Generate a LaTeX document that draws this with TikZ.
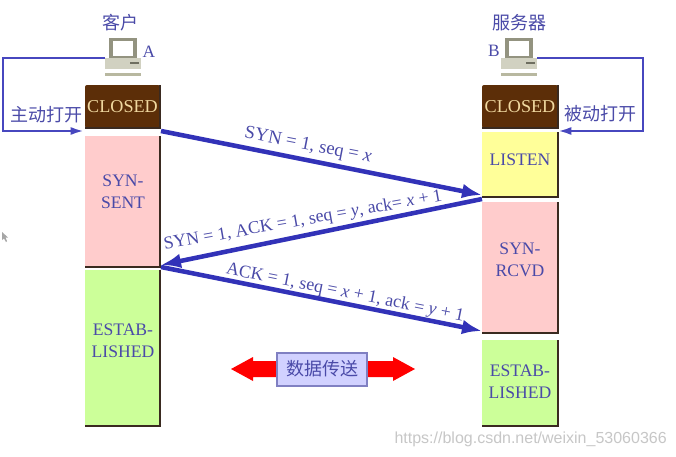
\documentclass[tikz,border=0pt]{standalone}
\usepackage{fontspec}
\setmainfont{Liberation Serif}
\setsansfont{Liberation Sans}
\newfontfamily\cjk{Noto Sans CJK SC}
\usetikzlibrary{arrows.meta}
\definecolor{ink}{HTML}{4A4AA8}
\definecolor{flow}{HTML}{3232B8}
\definecolor{brown}{HTML}{5C2E08}
\definecolor{sand}{HTML}{F0D8A0}
\definecolor{pinkb}{HTML}{FFCCCC}
\definecolor{yelb}{HTML}{FFFF99}
\definecolor{greenb}{HTML}{CCFF99}
\definecolor{edge}{HTML}{3A2A20}
\definecolor{pcg}{HTML}{B8B8A0}
\tikzset{
 x=0.75pt,y=-0.75pt,
 statebox/.style={anchor=north west,inner sep=0pt,outer sep=0pt},
 statetail/.style={draw=edge,line width=1.4pt},
 bigflow/.style={draw=flow,line width=3.4pt,-{Latex[length=15pt,width=11pt]}},
 thinflow/.style={draw=flow!90!white,line width=1.8pt},
 thinhead/.style={thinflow,-{Latex[length=10pt,width=6pt]}},
 flowlabel/.style={text=ink,font=\fontsize{13.4}{15}\selectfont,inner sep=0pt},
 boxlabel/.style={text=ink,font=\fontsize{13.2}{16.5}\selectfont,inner sep=0pt,align=center},
 closedlabel/.style={text=sand,font=\fontsize{13.6}{15}\selectfont,inner sep=0pt},
 cjklabel/.style={text=ink,font=\cjk\fontsize{13.5}{15}\selectfont,inner sep=0pt},
 pclabel/.style={text=ink,font=\fontsize{13}{15}\selectfont,inner sep=0pt},
}
\newcommand{\pcicon}[1]{%
 \begin{scope}[shift={(#1)}]
  \fill[pcg!80!black] (-14,-22) rectangle (14,-2);
  \fill[white] (-10,-19) rectangle (10,-4);
  \fill[pcg!65!white] (-18,-2) rectangle (18,9);
  \fill[pcg!60!black] (7,2) rectangle (16,4);
  \fill[pcg] (-18,13) rectangle (18,16);
 \end{scope}}
\begin{document}
\begin{tikzpicture}
\useasboundingbox (0,0) rectangle (676,457);
\fill[white] (0,0) rectangle (676,457);
% left boxes
\node[statebox,fill=brown,rounded corners=1.5pt,minimum width=75*0.75pt,minimum height=43*0.75pt] (lc) at (85,85) {};
\node[closedlabel] (lct) at (lc.center) {CLOSED};
\node[statebox,fill=pinkb,minimum width=75*0.75pt,minimum height=131*0.75pt] (ls) at (85,136) {};
\node[boxlabel] (lst) at (123,192) {SYN-\\SENT};
\node[statebox,fill=greenb,minimum width=75*0.75pt,minimum height=156*0.75pt] (le) at (85,270) {};
\node[boxlabel] (let) at (123,341) {ESTAB-\\LISHED};
% right boxes
\node[statebox,fill=brown,rounded corners=1.5pt,minimum width=76*0.75pt,minimum height=43*0.75pt] (rc) at (482,85) {};
\node[closedlabel] (rct) at (rc.center) {CLOSED};
\node[statebox,fill=yelb,minimum width=76*0.75pt,minimum height=65*0.75pt] (rl) at (482,132) {};
\node[boxlabel] (rlt) at (520,160) {LISTEN};
\node[statebox,fill=pinkb,minimum width=76*0.75pt,minimum height=131*0.75pt] (rs) at (482,202) {};
\node[boxlabel] (rst) at (520,260) {SYN-\\RCVD};
\node[statebox,fill=greenb,minimum width=76*0.75pt,minimum height=86*0.75pt] (re) at (482,340) {};
\node[boxlabel] (ret) at (520,382) {ESTAB-\\LISHED};
% shadows
\foreach \n in {lc,ls,le,rc,rl,rs,re} \draw[statetail] (\n.north east) -- (\n.south east) -- (\n.south west);
% PCs
\pcicon{123,60}
\pcicon{519,60}
\coordinate (pca) at (105,58);
\coordinate (pcb) at (537,58);
\coordinate (ltip) at (84,131);
\coordinate (rtip) at (558,131);
\node[cjklabel] (ka) at (121,23) {客户};
\node[cjklabel] (sv) at (519,23) {服务器};
\node[pclabel] (la) at (149,52) {A};
\node[pclabel] (lb) at (494,51) {B};
% open loops
\draw[thinhead] (pca) -- (3,58) -- (3,131) -- (ltip);
\draw[thinhead] (pcb) -- (643,58) -- (643,131) -- (rtip);
\node[cjklabel] (zd) at (47,115) {主动打开};
\node[cjklabel] (bd) at (600,114) {被动打开};
% handshake
\coordinate (a1s) at (161,131);
\coordinate (a1e) at (482,195);
\coordinate (a2s) at (482,199);
\coordinate (a2e) at (161,265);
\coordinate (a3s) at (161,267);
\coordinate (a3e) at (482,331);
\draw[bigflow] (a1s) -- (a1e);
\draw[bigflow] (a2s) -- (a2e);
\draw[bigflow] (a3s) -- (a3e);
\node[flowlabel,rotate=-11,font=\fontsize{14}{15}\selectfont] (t1) at (308,146) {SYN = 1, seq = \textit{x}};
\node[flowlabel,rotate=10] (t2) at (303,221) {SYN = 1, ACK = 1, seq = \textit{y}, ack= \textit{x} + 1};
\node[flowlabel,rotate=-11.3] (t3) at (345,293) {ACK = 1, seq = \textit{x} + 1, ack = \textit{y} + 1};
% data transfer
\fill[red] (231,369) -- (253,357) -- (253,361) -- (280,361) -- (280,377) -- (253,377) -- (253,381) -- cycle;
\fill[red] (415,369) -- (393,357) -- (393,361) -- (365,361) -- (365,377) -- (393,377) -- (393,381) -- cycle;
\node[draw=ink!70!white,line width=1.5pt,fill=blue!18!white,minimum width=90*0.75pt,minimum height=33*0.75pt,inner sep=0pt,text=ink,font=\cjk\fontsize{13.5}{15}\selectfont] (data) at (322,369) {数据传送};
% cursor
\fill[gray!70] (2,232) -- (2,240) -- (4,238.5) -- (6,242) -- (7,241) -- (5.5,237.5) -- (8,237.5) -- cycle;
% watermark
\node[text=black!22,font=\fontsize{12}{14}\selectfont\sffamily,inner sep=0pt,anchor=east] (wm) at (667,439) {https://blog.csdn.net/weixin\_53060366};
\end{tikzpicture}
\end{document}
